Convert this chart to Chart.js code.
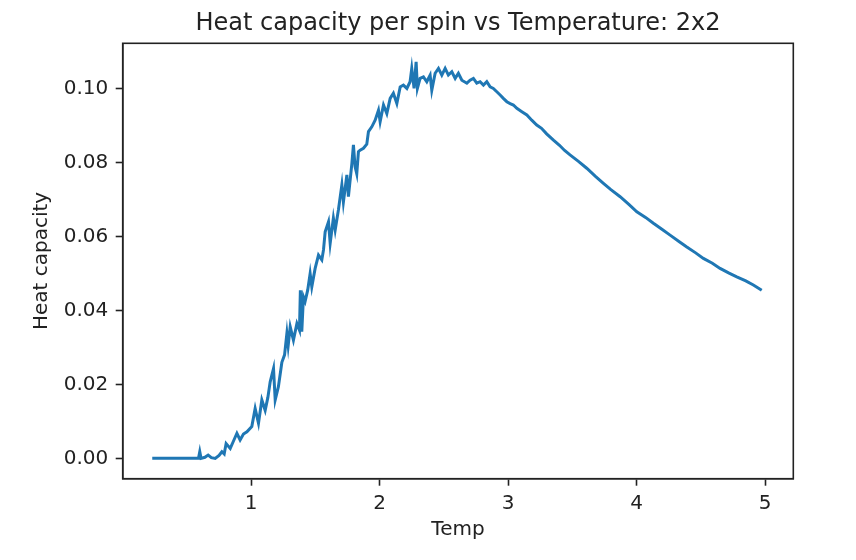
<!DOCTYPE html>
<html>
<head>
<meta charset="utf-8">
<script src="https://cdn.jsdelivr.net/npm/chart.js@4.4.1/dist/chart.umd.min.js"></script>
<style>
  html, body { margin: 0; padding: 0; background: #ffffff; }
  #wrap { width: 856px; height: 560px; }
</style>
</head>
<body>
<div id="wrap"><canvas id="c" width="856" height="560"></canvas></div>
<script>
const chartTitle = 'Heat capacity per spin vs Temperature: 2x2';
const xAxisLabel = 'Temp';
const yAxisLabel = 'Heat capacity';
const xTickValues = [1, 2, 3, 4, 5];
const yTickValues = [0.00, 0.02, 0.04, 0.06, 0.08, 0.10];

const temps = [0.23,0.30,0.40,0.50,0.59,0.60,0.61,0.64,0.665,0.69,0.72,0.75,0.772,0.79,0.805,0.837,0.86,0.889,0.914,0.94,0.967,1.005,1.031,1.057,1.083,1.109,1.13,1.148,1.174,1.187,1.212,1.239,1.26,1.278,1.288,1.304,1.329,1.356,1.376,1.383,1.394,1.407,1.420,1.44,1.459,1.472,1.498,1.524,1.550,1.563,1.576,1.602,1.615,1.640,1.654,1.679,1.706,1.718,1.745,1.757,1.784,1.796,1.809,1.822,1.835,1.848,1.874,1.900,1.913,1.939,1.965,1.991,2.004,2.030,2.056,2.082,2.107,2.134,2.160,2.185,2.212,2.237,2.250,2.268,2.284,2.294,2.315,2.341,2.367,2.393,2.406,2.432,2.458,2.484,2.510,2.535,2.562,2.588,2.613,2.640,2.679,2.704,2.730,2.756,2.782,2.808,2.834,2.860,2.885,2.912,2.938,2.963,2.990,3.016,3.041,3.068,3.107,3.146,3.184,3.223,3.26,3.30,3.353,3.40,3.44,3.482,3.55,3.612,3.68,3.742,3.80,3.872,3.94,4.002,4.07,4.131,4.20,4.261,4.33,4.391,4.46,4.520,4.59,4.650,4.72,4.780,4.85,4.909,4.974];

const heatCapacity = [0,0,0,0,0,0.0018,0,0.0003,0.0009,0.0002,0,0.0008,0.0018,0.0012,0.0040,0.0027,0.0045,0.0068,0.0050,0.0066,0.0072,0.0086,0.0135,0.0095,0.0158,0.0130,0.0165,0.0207,0.0243,0.0158,0.0194,0.0260,0.0280,0.0338,0.0305,0.0356,0.0320,0.0365,0.0347,0.0455,0.0343,0.0437,0.0425,0.0455,0.0500,0.0464,0.0514,0.0550,0.0537,0.0564,0.0613,0.0640,0.0582,0.0650,0.0618,0.0672,0.0740,0.0694,0.0767,0.0708,0.0798,0.0848,0.0789,0.0770,0.0830,0.0834,0.0839,0.0850,0.0884,0.0897,0.0915,0.0942,0.0911,0.0956,0.0933,0.0974,0.0988,0.0960,0.1005,0.1010,0.1001,0.1019,0.1055,0.1001,0.1073,0.1001,0.1028,0.1032,0.1019,0.1037,0.0996,0.1042,0.1055,0.1037,0.1055,0.1037,0.1046,0.1028,0.1042,0.1023,0.1015,0.1023,0.1028,0.1015,0.1019,0.1010,0.1019,0.1005,0.1001,0.0992,0.0983,0.0974,0.0965,0.0960,0.0956,0.0947,0.0938,0.0929,0.0915,0.0902,0.0893,0.0878,0.0861,0.0847,0.0833,0.0821,0.0803,0.0785,0.0763,0.0744,0.0727,0.0708,0.0687,0.0667,0.0652,0.0636,0.0619,0.0604,0.0587,0.0572,0.0556,0.0541,0.0528,0.0514,0.0501,0.0491,0.0480,0.0469,0.0455];

const INK = '#222222';
const FONT = 'DejaVu Sans';

const framePlugin = {
  id: 'frame',
  afterDraw(chart) {
    const {ctx, chartArea: a} = chart;
    ctx.save();
    ctx.strokeStyle = INK;
    ctx.lineWidth = 1.6;
    ctx.strokeRect(a.left, a.top, a.right - a.left, a.bottom - a.top);
    ctx.restore();
  }
};

new Chart(document.getElementById('c'), {
  type: 'line',
  data: {
    datasets: [{
      data: temps.map((t, i) => ({x: t, y: heatCapacity[i]})),
      borderColor: '#1f77b4',
      borderWidth: 3,
      pointRadius: 0,
      tension: 0,
      fill: false
    }]
  },
  options: {
    responsive: false,
    animation: false,
    devicePixelRatio: 1,
    layout: { padding: { left: 0, right: 62.7, top: 0, bottom: 0 } },
    plugins: {
      legend: { display: false },
      tooltip: { enabled: false },
      title: {
        display: true,
        text: chartTitle,
        fullSize: false,
        color: INK,
        font: { family: FONT, size: 24, weight: 'normal', lineHeight: 1.2 },
        padding: { top: 9.8, bottom: 4.7 }
      }
    },
    scales: {
      x: {
        type: 'linear',
        min: 0.0,
        max: 5.22,
        afterFit(s) { s.height = 81.3; },
        afterBuildTicks(s) { s.ticks = xTickValues.map(v => ({value: v})); },
        ticks: {
          color: INK,
          font: { family: FONT, size: 20 },
          padding: 6,
          maxRotation: 0,
          callback: v => String(v)
        },
        grid: { display: true, drawOnChartArea: false, drawTicks: true, tickLength: 7, tickWidth: 1.6, tickColor: INK, color: INK },
        border: { display: true, color: INK, width: 1.6 },
        title: {
          display: true,
          text: xAxisLabel,
          color: INK,
          font: { family: FONT, size: 20, lineHeight: 1.2 },
          padding: { top: 0, bottom: 18.3 }
        }
      },
      y: {
        type: 'linear',
        min: -0.0055,
        max: 0.1123,
        afterFit(s) { s.width = 122.7; },
        afterBuildTicks(s) { s.ticks = yTickValues.map(v => ({value: v})); },
        ticks: {
          color: INK,
          font: { family: FONT, size: 20 },
          padding: 7.4,
          callback: v => Number(v).toFixed(2)
        },
        grid: { display: true, drawOnChartArea: false, drawTicks: true, tickLength: 7, tickWidth: 1.6, tickColor: INK, color: INK },
        border: { display: true, color: INK, width: 1.6 },
        title: {
          display: true,
          text: yAxisLabel,
          color: INK,
          font: { family: FONT, size: 20, lineHeight: 1.2 },
          padding: { top: 29.5, bottom: 0 }
        }
      }
    }
  },
  plugins: [framePlugin]
});
</script>
</body>
</html>
